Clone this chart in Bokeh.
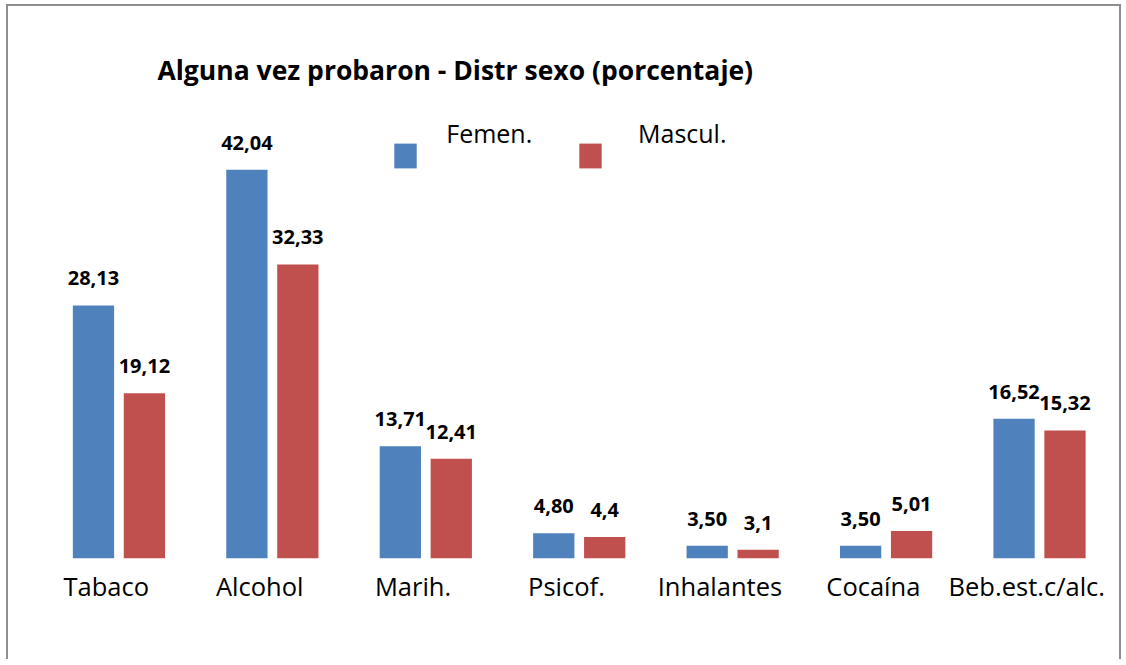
from bokeh.plotting import figure
from bokeh.models import (ColumnDataSource, FactorRange, Range1d, LabelSet, Legend, LegendItem, Label)
from bokeh.core.properties import value
from bokeh.transform import dodge
from bokeh.embed import file_html
from bokeh.resources import INLINE

categories = ["Tabaco", "Alcohol", "Marih.", "Psicof.", "Inhalantes", "Cocaína", "Beb.est.c/alc."]
femen = [28.13, 42.04, 13.71, 4.80, 3.50, 3.50, 16.52]
mascul = [19.12, 32.33, 12.41, 4.4, 3.1, 5.01, 15.32]
femen_lbl = ["28,13", "42,04", "13,71", "4,80", "3,50", "3,50", "16,52"]
mascul_lbl = ["19,12", "32,33", "12,41", "4,4", "3,1", "5,01", "15,32"]
title_text = "Alguna vez probaron - Distr sexo (porcentaje)"
series_names = ["Femen.", "Mascul."]

BLUE = "#4F81BD"
RED = "#C0504D"
FONT = "Open Sans"
Y0 = 2.2

src = ColumnDataSource(dict(cat=categories, f=femen, m=mascul, fl=femen_lbl, ml=mascul_lbl))

p = figure(x_range=FactorRange(factors=categories, range_padding=0),
           y_range=Range1d(Y0, 49.13),
           width=1115, height=655, output_backend="svg", toolbar_location=None,
           min_border_left=21, min_border_right=20, min_border_top=94, min_border_bottom=103)
p.styles = {"border-left": "2px solid #8e8e8e", "border-top": "2px solid #8e8e8e",
            "border-right": "2px solid #8e8e8e", "margin-left": "6px", "margin-top": "4px"}

rf = p.vbar(x=dodge("cat", -0.083, range=p.x_range), top="f", bottom=Y0, width=0.269,
            source=src, fill_color=BLUE, line_color=None)
rm = p.vbar(x=dodge("cat", 0.249, range=p.x_range), top="m", bottom=Y0, width=0.269,
            source=src, fill_color=RED, line_color=None)

lf = LabelSet(x=dodge("cat", -0.083, range=p.x_range), y="f", text="fl", source=src,
              text_align="center", text_baseline="alphabetic", y_offset=20,
              text_font=value(FONT), text_font_style="bold", text_font_size="20px",
              text_color="black")
lm = LabelSet(x=dodge("cat", 0.249, range=p.x_range), y="m", text="ml", source=src,
              text_align="center", text_baseline="alphabetic", y_offset=20,
              text_font=value(FONT), text_font_style="bold", text_font_size="20px",
              text_color="black")
p.add_layout(lf)
p.add_layout(lm)

# legend swatches; the legend texts are placed above them as labels
for r, loc in [(rf, (362, 387)), (rm, (547, 387))]:
    lg = Legend(items=[LegendItem(label=value(" "), renderers=[r])], location=loc,
                orientation="horizontal", glyph_width=28, glyph_height=31,
                label_standoff=0, padding=0, margin=0, border_line_color=None,
                background_fill_alpha=0, label_text_font_size="2px", label_height=1,
                label_width=1, spacing=0)
    p.add_layout(lg, "center")

for name, lx in [(series_names[0], 416.75), (series_names[1], 608.5)]:
    p.add_layout(Label(x=lx, y=426, x_units="screen", y_units="screen", text=name,
                       text_font=FONT, text_font_size="25px", text_color="black",
                       text_baseline="alphabetic", text_align="left"))

p.title.text = title_text
p.title.text_font = FONT
p.title.text_font_style = "bold"
p.title.text_font_size = "26.5px"
p.title.text_color = "black"
p.title.align = "left"
p.title.offset = 128
p.title.standoff = 25

p.xaxis.major_label_text_font = FONT
p.xaxis.major_label_text_font_size = "25.5px"
p.xaxis.major_label_text_color = "black"
p.xaxis.axis_line_color = None
p.xaxis.major_tick_line_color = None
p.xaxis.minor_tick_line_color = None
p.xaxis.major_label_standoff = 4
p.yaxis.visible = False
p.xgrid.grid_line_color = None
p.ygrid.grid_line_color = None
p.outline_line_color = None

open("out.html", "w").write(file_html(p, INLINE))
